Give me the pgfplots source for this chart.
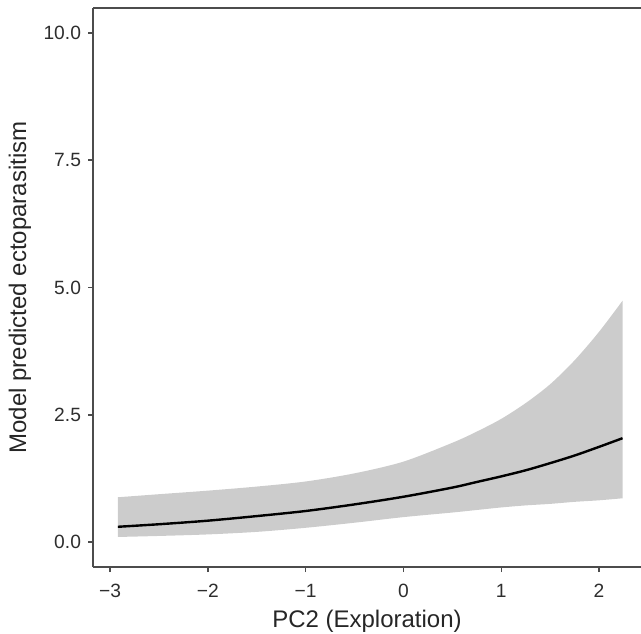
\documentclass[border=0pt]{standalone}
\usepackage{pgfplots}
\pgfplotsset{compat=1.18}
\usepackage{pgfplotstable}
\usepgfplotslibrary{fillbetween}
\usepackage{fontspec}
\setmainfont{Liberation Sans}
\pgfplotstableread{
x mean lower upper
-2.92 0.30 0.10 0.88
-2.50 0.35 0.12 0.94
-2.00 0.42 0.15 1.01
-1.50 0.51 0.20 1.09
-1.00 0.61 0.28 1.19
-0.50 0.74 0.38 1.35
0.00 0.89 0.49 1.58
0.50 1.07 0.58 1.95
0.75 1.18 0.63 2.17
1.00 1.29 0.68 2.42
1.25 1.41 0.72 2.73
1.50 1.55 0.75 3.10
1.75 1.70 0.79 3.57
2.00 1.87 0.82 4.13
2.24 2.04 0.86 4.74
}\pred
\begin{document}
\begin{tikzpicture}
\begin{axis}[
 at={(0,0)}, anchor=south west,
 scale only axis, width=274pt, height=279.5pt,
 xmin=-3.174, xmax=2.429, ymin=-0.49, ymax=10.49,
 axis lines=left, axis line style={-, black!70, line width=0.75pt},
 tick style={black!70, line width=0.75pt}, tick align=outside, major tick length=2.5pt,
 xtick={-3,-2,-1,0,1,2}, xticklabels={−3,−2,−1,0,1,2},
 ytick={0,2.5,5,7.5,10}, yticklabels={0.0,2.5,5.0,7.5,10.0},
 ticklabel style={font=\fontsize{9.6}{11}\selectfont, text=black!82},
 xticklabel style={yshift=-2.5pt},
 xlabel={PC2 (Exploration)}, ylabel={Model predicted ectoparasitism},
 every axis x label/.style={at={(axis description cs:0.5,-0.1091)}, anchor=base, font=\fontsize{12}{14}\selectfont, text=black!85},
 every axis y label/.style={at={(axis description cs:-0.1332,0.5)}, anchor=center, rotate=90, font=\fontsize{12}{14}\selectfont, text=black!85},
 clip=false,
]
\addplot[name path=U, draw=none, smooth] table[x=x, y=upper] {\pred};
\addplot[name path=L, draw=none, smooth] table[x=x, y=lower] {\pred};
\addplot[fill=black!20, draw=none] fill between[of=U and L];
\addplot[black, line width=1.2pt, smooth] table[x=x, y=mean] {\pred};
\draw[black!70, line width=0.75pt] (rel axis cs:0,1) -- (rel axis cs:1,1);
\end{axis}
\pgfresetboundingbox
\path[use as bounding box] (-46.5pt,-33pt) rectangle (274pt,283.5pt);
\end{tikzpicture}
\end{document}
